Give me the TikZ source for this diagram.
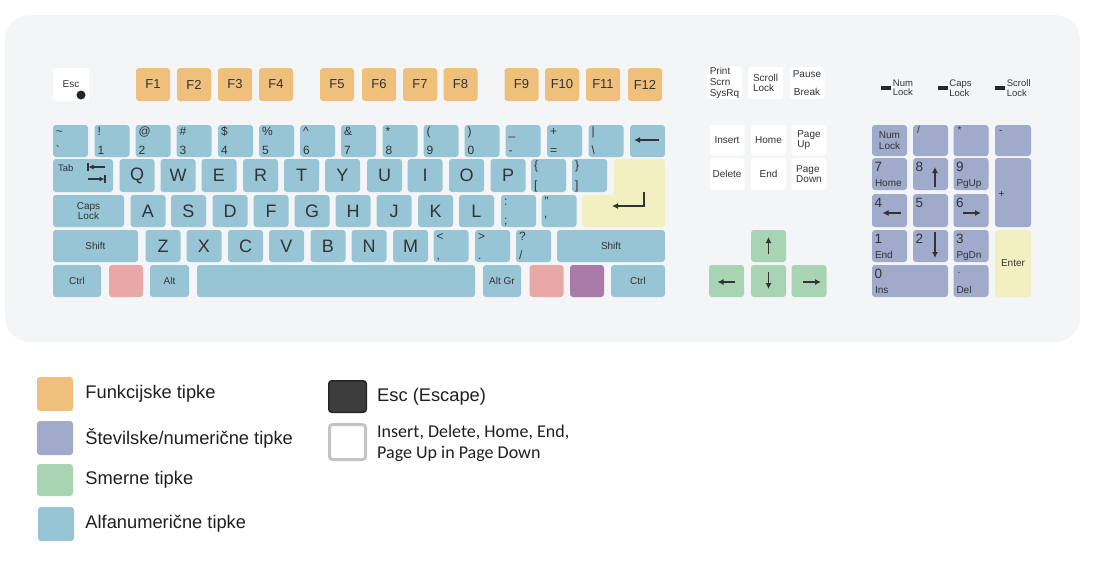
\documentclass[tikz,border=0pt]{standalone}
\usepackage{fontspec}
\setmainfont{Liberation Sans}
\newfontfamily\calibrifont{Carlito}
\usepackage{tikz}
\usetikzlibrary{arrows.meta, positioning}
\definecolor{kbbg}{RGB}{244,245,247}
\definecolor{fncol}{RGB}{239,192,124}
\definecolor{alcol}{RGB}{151,197,213}
\definecolor{entcol}{RGB}{242,240,193}
\definecolor{dircol}{RGB}{168,212,179}
\definecolor{numcol}{RGB}{160,170,203}
\definecolor{wincol}{RGB}{232,168,166}
\definecolor{mencol}{RGB}{169,122,167}
\definecolor{keyink}{RGB}{51,51,51}
\definecolor{escdark}{RGB}{61,61,61}
\definecolor{edgegray}{RGB}{196,196,196}

\begin{document}
\begin{tikzpicture}[x=1pt, y=-1pt,
    key/.style={rectangle, rounded corners=3pt, inner sep=0pt, minimum width=35pt, minimum height=32pt,
                align=center, text=keyink, font=\fontsize{10}{10.5}\selectfont},
    wkey/.style={key, fill=white},
    fnkey/.style={key, fill=fncol, minimum width=34pt, minimum height=33pt, font=\fontsize{13}{13}\selectfont},
    alkey/.style={key, fill=alcol},
    ltrkey/.style={alkey, font=\fontsize{18}{18}\selectfont},
    dkey/.style={key, fill=dircol},
    nkey/.style={key, fill=numcol},
    tl/.style={anchor=base west, inner sep=0pt, xshift=3pt, yshift=-11pt, text=keyink, font=\fontsize{12}{12}\selectfont},
    bl/.style={anchor=base west, inner sep=0pt, xshift=3pt, yshift=3pt, text=keyink, font=\fontsize{12}{12}\selectfont},
    duo/.style 2 args={label={[tl]north west:{#1}}, label={[bl]south west:{#2}}},
    ntop/.style={anchor=base west, inner sep=0pt, xshift=4pt, yshift=-9pt, text=keyink, font=\fontsize{10}{10}\selectfont},
    ndig/.style={anchor=base west, inner sep=0pt, xshift=2.5pt, yshift=-13.5pt, text=keyink, font=\fontsize{13.5}{13.5}\selectfont},
    nbl/.style={anchor=base west, inner sep=0pt, xshift=3pt, yshift=4pt, text=keyink, font=\fontsize{10}{10}\selectfont},
    nmid/.style={anchor=west, inner sep=0pt, xshift=3.5pt, yshift=-1.5pt, text=keyink, font=\fontsize{10.5}{10.5}\selectfont},
    npd/.style 2 args={label={[ndig]north west:{#1}}, label={[nbl]south west:{#2}}},
    karr/.style={-{Latex[length=6pt, width=6pt]}, line width=1.4pt, draw=keyink},
    ledbar/.style={rectangle, fill=black!85, minimum width=10pt, minimum height=4pt, inner sep=0pt},
    ledtxt/.style={inner sep=0pt, align=left, text=keyink, font=\fontsize{9.5}{9.5}\selectfont},
    lgsq/.style={rectangle, rounded corners=3pt, minimum width=36pt, minimum height=34pt, inner sep=0pt},
    lgtxt/.style={inner sep=0pt, text=black!88, font=\fontsize{18.3}{21}\selectfont}]
    \useasboundingbox (0,0) rectangle (1096,562);
    % keyboard body
    \fill[kbbg, rounded corners=25pt] (5,15) rectangle (1080,342);

    % function row
    \node[wkey, minimum width=36pt, minimum height=33pt] (esc) at (71,84.5) {Esc};
    \fill[black!85] ([shift={(10,10.5)}]esc.center) circle (4.5pt);
    \node[fnkey] (f1) at (153,84.5) {F1};
    \node[fnkey] (f2) at (194,84.5) {F2};
    \node[fnkey] (f3) at (235,84.5) {F3};
    \node[fnkey] (f4) at (276,84.5) {F4};
    \node[fnkey] (f5) at (337,84.5) {F5};
    \node[fnkey] (f6) at (379,84.5) {F6};
    \node[fnkey] (f7) at (420,84.5) {F7};
    \node[fnkey] (f8) at (460.5,84.5) {F8};
    \node[fnkey] (f9) at (521.5,84.5) {F9};
    \node[fnkey] (f10) at (562,84.5) {F10};
    \node[fnkey] (f11) at (603,84.5) {F11};
    \node[fnkey] (f12) at (645,84.5) {F12};

    % number row
    \node[alkey, duo={\textasciitilde}{\textasciigrave}] (ktil) at (70.5,141) {};
    \node[alkey, duo={!}{1}] (k1) at (112,141) {};
    \node[alkey, duo={@}{2}] (k2) at (153,141) {};
    \node[alkey, duo={\#}{3}] (k3) at (194,141) {};
    \node[alkey, duo={\$}{4}] (k4) at (235.5,141) {};
    \node[alkey, duo={\%}{5}] (k5) at (276.5,141) {};
    \node[alkey, duo={\textasciicircum}{6}] (k6) at (317.5,141) {};
    \node[alkey, duo={\&}{7}] (k7) at (358.5,141) {};
    \node[alkey, duo={*}{8}] (k8) at (400,141) {};
    \node[alkey, duo={(}{9}] (k9) at (441,141) {};
    \node[alkey, duo={)}{0}] (k0) at (482,141) {};
    \node[alkey, duo={\_}{-}] (kmin) at (523,141) {};
    \node[alkey, duo={+}{=}] (keq) at (564.5,141) {};
    \node[alkey, duo={|}{\textbackslash}] (kbsl) at (606,141) {};
    \node[alkey] (bksp) at (647.5,141) {};
    \draw[karr] ([shift={(11,-1)}]bksp.center) -- ([shift={(-13.5,-1)}]bksp.center);

    % qwerty row
    \node[alkey, minimum width=60pt, minimum height=33pt,
          label={[tl, xshift=2pt, yshift=-2pt, font=\fontsize{9.5}{9.5}\selectfont]north west:Tab}] (tab) at (83,175.5) {};
    \draw[karr, line width=1.2pt, -{Latex[length=5pt, width=5pt]}] ([shift={(22,-8.5)}]tab.center) -- ([shift={(5.5,-8.5)}]tab.center);
    \draw[keyink, line width=1.2pt] ([shift={(5,-12.5)}]tab.center) -- ([shift={(5,-4.5)}]tab.center);
    \draw[karr, line width=1.2pt, -{Latex[length=5pt, width=5pt]}] ([shift={(5,3.5)}]tab.center) -- ([shift={(21.5,3.5)}]tab.center);
    \draw[keyink, line width=1.2pt] ([shift={(22,-0.5)}]tab.center) -- ([shift={(22,7.5)}]tab.center);
    \node[ltrkey, minimum height=33pt] (kq) at (137,175.5) {Q};
    \node[ltrkey, minimum height=33pt] (kw) at (178,175.5) {W};
    \node[ltrkey, minimum height=33pt] (ke) at (219,175.5) {E};
    \node[ltrkey, minimum height=33pt] (kr) at (260.5,175.5) {R};
    \node[ltrkey, minimum height=33pt] (kt) at (301.5,175.5) {T};
    \node[ltrkey, minimum height=33pt] (ky) at (342.5,175.5) {Y};
    \node[ltrkey, minimum height=33pt] (ku) at (384.5,175.5) {U};
    \node[ltrkey, minimum height=33pt] (ki) at (425,175.5) {I};
    \node[ltrkey, minimum height=33pt] (ko) at (466.5,175.5) {O};
    \node[ltrkey, minimum height=33pt] (kp) at (508,175.5) {P};
    \node[alkey, minimum height=33pt, duo={\{}{[}] (klbr) at (548.5,175.5) {};
    \node[alkey, minimum height=33pt, duo={\}}{]}] (krbr) at (589.5,175.5) {};
    % enter
    \fill[entcol, rounded corners=3pt] (614,159) -- (665,159) -- (665,227) -- (582,227) -- (582,195) -- (614,195) -- cycle;
    \coordinate (entbend) at (644,192);
    \draw[karr] (entbend) |- ++(-32,14);

    % home row
    \node[alkey, minimum width=71pt] (caps) at (88.5,211) {Caps\\Lock};
    \node[ltrkey] (ka) at (148,211) {A};
    \node[ltrkey] (ks) at (188.5,211) {S};
    \node[ltrkey] (kd) at (230,211) {D};
    \node[ltrkey] (kf) at (271,211) {F};
    \node[ltrkey] (kg) at (312,211) {G};
    \node[ltrkey] (kh) at (353,211) {H};
    \node[ltrkey] (kj) at (394,211) {J};
    \node[ltrkey] (kk) at (435.5,211) {K};
    \node[ltrkey] (kl) at (476.5,211) {L};
    \node[alkey, duo={:}{;}] (ksem) at (518.5,211) {};
    \node[alkey, duo={"}{\textquotesingle}] (kquo) at (559,211) {};

    % shift row
    \node[alkey, minimum width=85pt] (lshift) at (95.5,246) {Shift};
    \node[ltrkey] (kz) at (163,246) {Z};
    \node[ltrkey] (kx) at (204,246) {X};
    \node[ltrkey] (kc) at (245.5,246) {C};
    \node[ltrkey] (kv) at (286.5,246) {V};
    \node[ltrkey] (kb) at (328,246) {B};
    \node[ltrkey] (kn) at (369,246) {N};
    \node[ltrkey] (km) at (410.5,246) {M};
    \node[alkey, duo={<}{,}] (kcom) at (451,246) {};
    \node[alkey, duo={>}{.}] (kdot) at (492.5,246) {};
    \node[alkey, duo={?}{/}] (ksla) at (533.5,246) {};
    \node[alkey, minimum width=108pt] (rshift) at (611,246) {Shift};

    % bottom row
    \node[alkey, minimum width=48pt] (lctrl) at (77,281) {Ctrl};
    \node[key, fill=wincol, minimum width=34pt] (lwin) at (126,281) {};
    \node[alkey, minimum width=39pt] (lalt) at (169.5,281) {Alt};
    \node[alkey, minimum width=278pt] (space) at (336,281) {};
    \node[alkey, minimum width=38pt] (altgr) at (502,281) {Alt Gr};
    \node[key, fill=wincol, minimum width=34pt] (rwin) at (546.5,281) {};
    \node[key, fill=mencol, minimum width=34pt] (menu) at (587,281) {};
    \node[alkey, minimum width=54pt] (rctrl) at (638,281) {Ctrl};

    % navigation block
    \node[wkey, align=left, font=\fontsize{10}{11}\selectfont] (prt) at (724.5,83) {Print\\Scrn\\SysRq};
    \node[wkey, align=left] (scrl) at (765.5,83) {Scroll\\Lock};
    \node[wkey] (paus) at (807,83) {Pause\\[8pt]Break};
    \node[wkey, minimum height=31pt] (ins) at (727,140) {Insert};
    \node[wkey, minimum height=31pt] (home) at (768.5,140) {Home};
    \node[wkey, minimum height=31pt, align=left] (pgup) at (809,140) {Page\\Up};
    \node[wkey] (dele) at (727,174) {Delete};
    \node[wkey] (endk) at (768.5,174) {End};
    \node[wkey, align=left] (pgdn) at (809,174) {Page\\Down};
    \node[dkey] (arup) at (768.5,246) {};
    \node[dkey] (arlf) at (726.5,281) {};
    \node[dkey] (ardn) at (768.5,281) {};
    \node[dkey] (arrt) at (809,281) {};
    \draw[karr] ([shift={(0,8)}]arup.center) -- ([shift={(0,-9)}]arup.center);
    \draw[karr] ([shift={(0,-9)}]ardn.center) -- ([shift={(0,8)}]ardn.center);
    \draw[karr] ([shift={(8,1)}]arlf.center) -- ([shift={(-9,1)}]arlf.center);
    \draw[karr] ([shift={(-6,1)}]arrt.center) -- ([shift={(12,1)}]arrt.center);

    % lock lights
    \node[ledbar] (numled) at (886,88) {};
    \node[ledtxt, right=1.5pt of numled] (numledtxt) {Num\\Lock};
    \node[ledbar] (capsled) at (942.5,88) {};
    \node[ledtxt, right=1.5pt of capsled] (capsledtxt) {Caps\\Lock};
    \node[ledbar] (scrlled) at (1000,88) {};
    \node[ledtxt, right=1.5pt of scrlled] (scrlledtxt) {Scroll\\Lock};

    % numeric keypad
    \node[nkey, minimum height=31pt] (nlck) at (889.5,140.5) {Num\\Lock};
    \node[nkey, minimum height=31pt, label={[ntop]north west:/}] (ndiv) at (930.5,140.5) {};
    \node[nkey, minimum height=31pt, label={[ntop]north west:*}] (nmul) at (971,140.5) {};
    \node[nkey, minimum width=36pt, minimum height=31pt, label={[ntop]north west:-}] (nsub) at (1013,140.5) {};
    \node[nkey, npd={7}{Home}] (n7) at (889.5,174) {};
    \node[nkey, label={[ndig]north west:8}] (n8) at (930.5,174) {};
    \node[nkey, npd={9}{PgUp}] (n9) at (971,174) {};
    \node[nkey, minimum width=36pt, minimum height=69pt, label={[nmid]west:+}] (nadd) at (1013,192.5) {};
    \node[nkey, minimum height=33pt, label={[ndig]north west:4}] (n4) at (889.5,210.5) {};
    \node[nkey, minimum height=33pt, label={[ndig]north west:5}] (n5) at (930.5,210.5) {};
    \node[nkey, minimum height=33pt, label={[ndig]north west:6}] (n6) at (971,210.5) {};
    \node[nkey, npd={1}{End}] (n1) at (889.5,246) {};
    \node[nkey, label={[ndig]north west:2}] (n2) at (930.5,246) {};
    \node[nkey, npd={3}{PgDn}] (n3) at (971,246) {};
    \node[key, fill=entcol, minimum width=36pt, minimum height=67pt, font=\fontsize{10}{10}\selectfont] (nent) at (1013,263.5) {Enter};
    \node[nkey, minimum width=76pt, npd={0}{Ins}] (n0) at (910,281) {};
    \node[nkey, label={[ntop]north west:.}, label={[nbl]south west:Del}] (ndel) at (971,281) {};
    \draw[karr] ([shift={(4.5,13)}]n8.center) -- ([shift={(4.5,-7)}]n8.center);
    \draw[karr] ([shift={(4.5,-14)}]n2.center) -- ([shift={(4.5,12)}]n2.center);
    \draw[karr] ([shift={(11.5,2.5)}]n4.center) -- ([shift={(-7,2.5)}]n4.center);
    \draw[karr] ([shift={(-8,2.5)}]n6.center) -- ([shift={(10,2.5)}]n6.center);

    % legend
    \node[lgsq, fill=fncol] (lgfn) at (55,394) {};
    \node[lgtxt, right=12pt of lgfn] (lgfntxt) {Funkcijske tipke};
    \node[lgsq, fill=numcol] (lgnum) at (55,438) {};
    \node[lgtxt, right=12pt of lgnum] (lgnumtxt) {Številske/numerične tipke};
    \node[lgsq, fill=dircol, minimum height=32pt] (lgdir) at (55,480) {};
    \node[lgtxt, right=12pt of lgdir] (lgdirtxt) {Smerne tipke};
    \node[lgsq, fill=alcol] (lgal) at (56,524) {};
    \node[lgtxt, right=11pt of lgal] (lgaltxt) {Alfanumerične tipke};
    \node[lgsq, fill=escdark, draw=black!85, line width=1.5pt, minimum width=37.5pt, minimum height=31.5pt] (lgesc) at (347.5,396.5) {};
    \node[lgtxt, right=10pt of lgesc] (lgesctxt) {Esc (Escape)};
    \node[lgsq, fill=white, draw=edgegray, line width=3pt, minimum width=36pt, minimum height=35pt] (lgins) at (347.5,442) {};
    \node[lgtxt, align=left, font=\calibrifont\fontsize{18}{21.5}\selectfont, right=10pt of lgins, yshift=-1.5pt] (lginstxt) {Insert, Delete, Home, End,\\Page Up in Page Down};
\end{tikzpicture}
\end{document}
